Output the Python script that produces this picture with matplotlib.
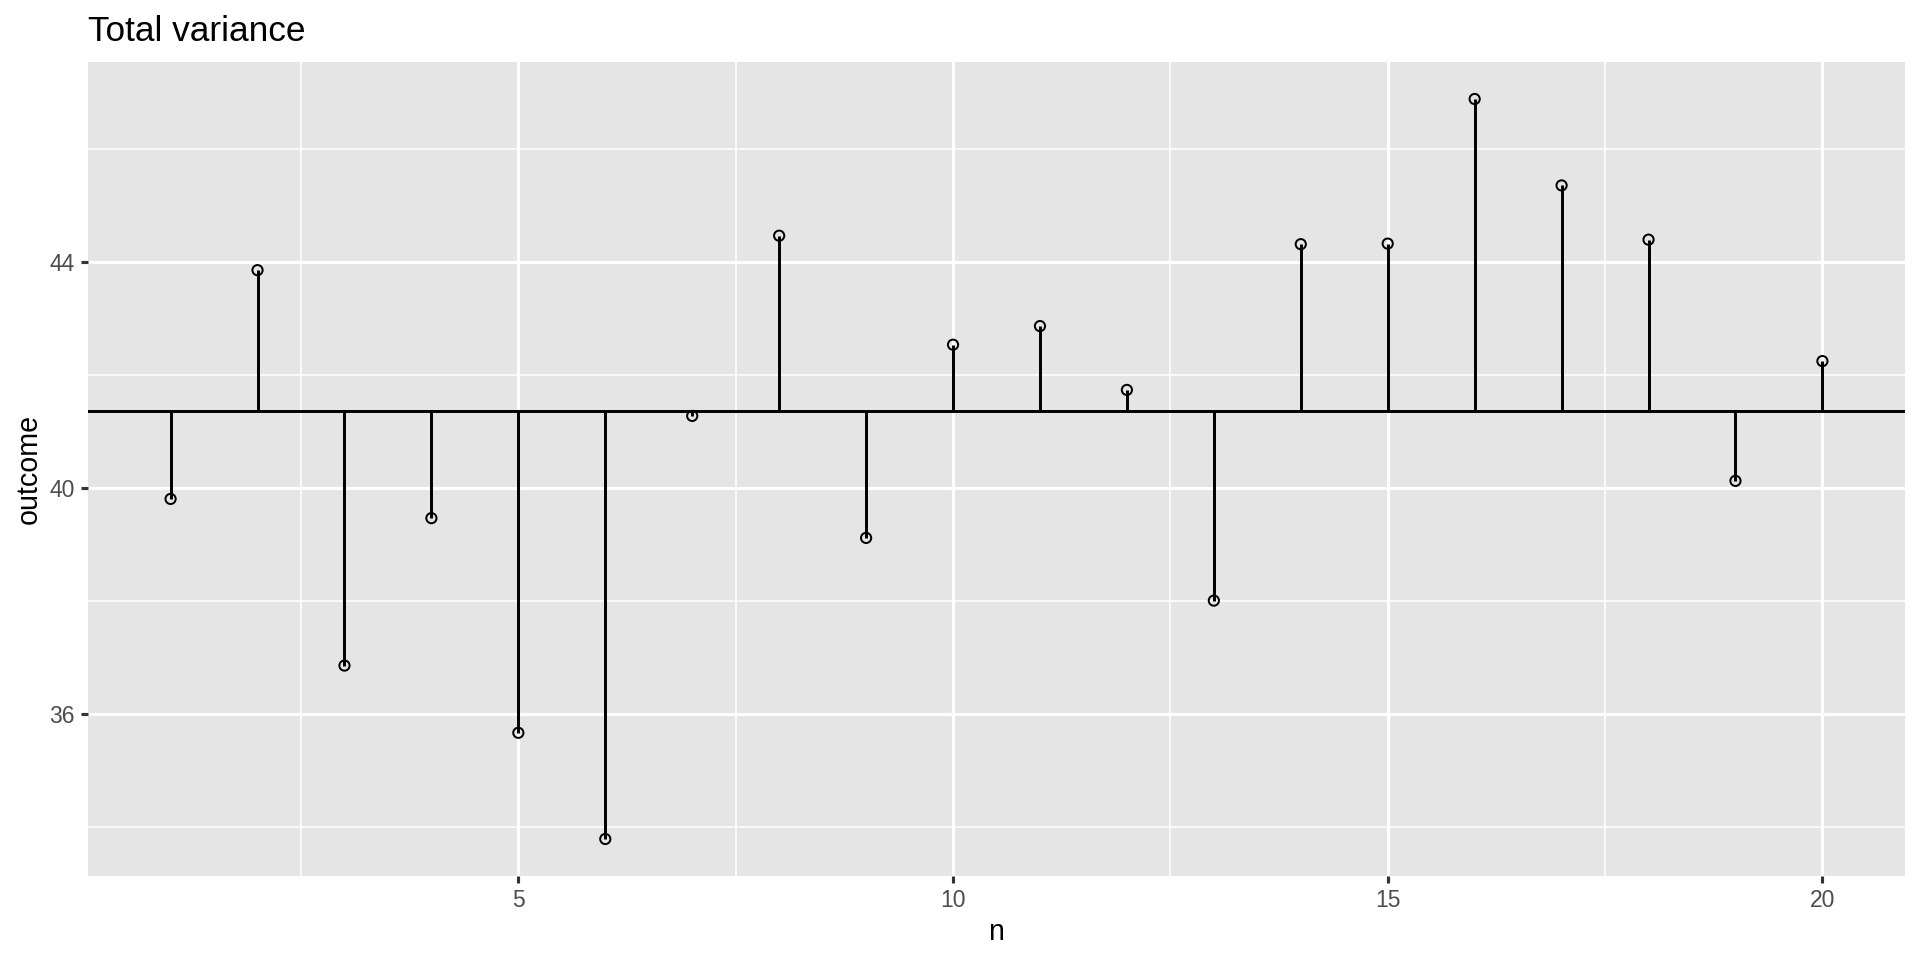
import numpy as np
import matplotlib
matplotlib.use("Agg")
import matplotlib.pyplot as plt
from matplotlib.ticker import MultipleLocator

n = list(range(1, 21))
outcome = [39.80, 43.85, 36.85, 39.46, 35.66, 33.78, 41.27, 44.46, 39.11, 42.53,
           42.86, 41.73, 38.00, 44.31, 44.32, 46.88, 45.35, 44.39, 40.12, 42.24]
x_ticks = [5, 10, 15, 20]
y_ticks = [36, 40, 44]

plt.rcParams["font.family"] = ["Liberation Sans", "DejaVu Sans"]

media = np.mean(outcome)

fig = plt.figure(figsize=(12.8, 6.4), dpi=150)
ax = fig.add_axes([88 / 1920, 84 / 960, (1905 - 88) / 1920, (876 - 62) / 960])
ax.set_facecolor("#E5E5E5")
for s in ax.spines.values():
    s.set_visible(False)

# grelha ao estilo ggplot
ax.set_xticks(x_ticks)
ax.set_yticks(y_ticks)
ax.xaxis.set_minor_locator(MultipleLocator(2.5))
ax.yaxis.set_minor_locator(MultipleLocator(2))
ax.grid(which="major", color="white", linewidth=1.5)
ax.grid(which="minor", color="white", linewidth=0.75)
ax.set_axisbelow(True)
ax.tick_params(which="major", length=3.4, width=1.5, color="#333333",
               labelsize=11, labelcolor="#4D4D4D", pad=3)
ax.tick_params(which="minor", length=0)

ax.axhline(media, color="black", linewidth=1.42, zorder=2)
ax.vlines(n, media, outcome, color="black", linewidth=1.42, zorder=3)
ax.scatter(n, outcome, s=24, facecolors="none", edgecolors="black",
           linewidths=0.95, zorder=4)

xr = max(n) - min(n)
ax.set_xlim(min(n) - 0.05 * xr, max(n) + 0.05 * xr)
yr = max(outcome) - min(outcome)
ax.set_ylim(min(outcome) - 0.05 * yr, max(outcome) + 0.05 * yr)

fig.text(88 / 1920, 1 - 41 / 960, "Total variance", fontsize=16.9,
         ha="left", va="baseline")
fig.text((88 + 1905) / 2 / 1920, 1 - 940 / 960, "n", fontsize=13.75,
         ha="center", va="baseline")
fig.text(37 / 1920, 1 - 469 / 960, "outcome", fontsize=13.75, rotation=90,
         ha="center", va="baseline", rotation_mode="anchor")

fig.savefig("out.png", dpi=150)
